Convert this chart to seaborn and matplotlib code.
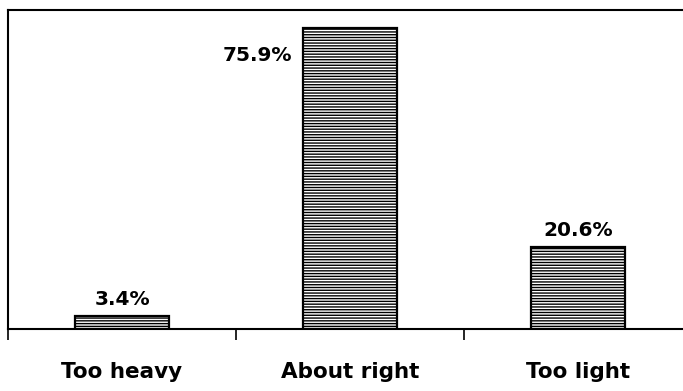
import matplotlib
matplotlib.use("Agg")
import matplotlib.pyplot as plt
import seaborn as sns
import pandas as pd

categories = ["Too heavy", "About right", "Too light"]
values = [3.4, 75.9, 20.6]
labels = ["3.4%", "75.9%", "20.6%"]

sns.set_style("white")
plt.rcParams['font.family'] = ['DejaVu Sans']
plt.rcParams['hatch.linewidth'] = 1.0
plt.rcParams['text.color'] = 'black'
plt.rcParams['xtick.color'] = 'black'
plt.rcParams['xtick.labelcolor'] = 'black'

df = pd.DataFrame({"cat": categories, "val": values})

fig = plt.figure(figsize=(6.83, 3.91), dpi=100)
ax = fig.add_axes([0.0117, 1 - 329 / 391, 0.9883, (329 - 10) / 391])

sns.barplot(data=df, x="cat", y="val", color="white", edgecolor="black",
            linewidth=1.6, width=0.41, ax=ax, saturation=1)
for p in ax.patches:
    p.set_hatch("------")
    p.set_facecolor("white")
    p.set_edgecolor("black")

ax.set_xlim(-0.5, 2.46)
ax.set_ylim(0, 80.4)
ax.set_xlabel("")
ax.set_ylabel("")
ax.set_yticks([])
ax.set_xticks(range(len(categories)))
ax.set_xticklabels(categories, fontsize=15.5, fontweight="bold", color="black")
ax.tick_params(axis="x", which="major", length=0, pad=24, bottom=True)
ax.set_xticks([-0.5, 0.5, 1.5], minor=True)
ax.tick_params(axis="x", which="minor", length=8, width=1.2, color="black",
               direction="out", bottom=True)

for s in ["left", "bottom", "top"]:
    ax.spines[s].set_visible(True)
    ax.spines[s].set_color("black")
    ax.spines[s].set_linewidth(1.5)
ax.spines["right"].set_visible(False)

for i, (v, lab) in enumerate(zip(values, labels)):
    if i == 1:
        ax.text(i - 0.41 / 2 - 0.05, v - 7, lab, ha="right", va="center",
                fontsize=14.5, fontweight="bold", color="black")
    else:
        ax.annotate(lab, (i, v), xytext=(0, 5), textcoords="offset points",
                    ha="center", va="bottom", fontsize=14.5, fontweight="bold",
                    color="black")

fig.savefig("out.png", dpi=100)
